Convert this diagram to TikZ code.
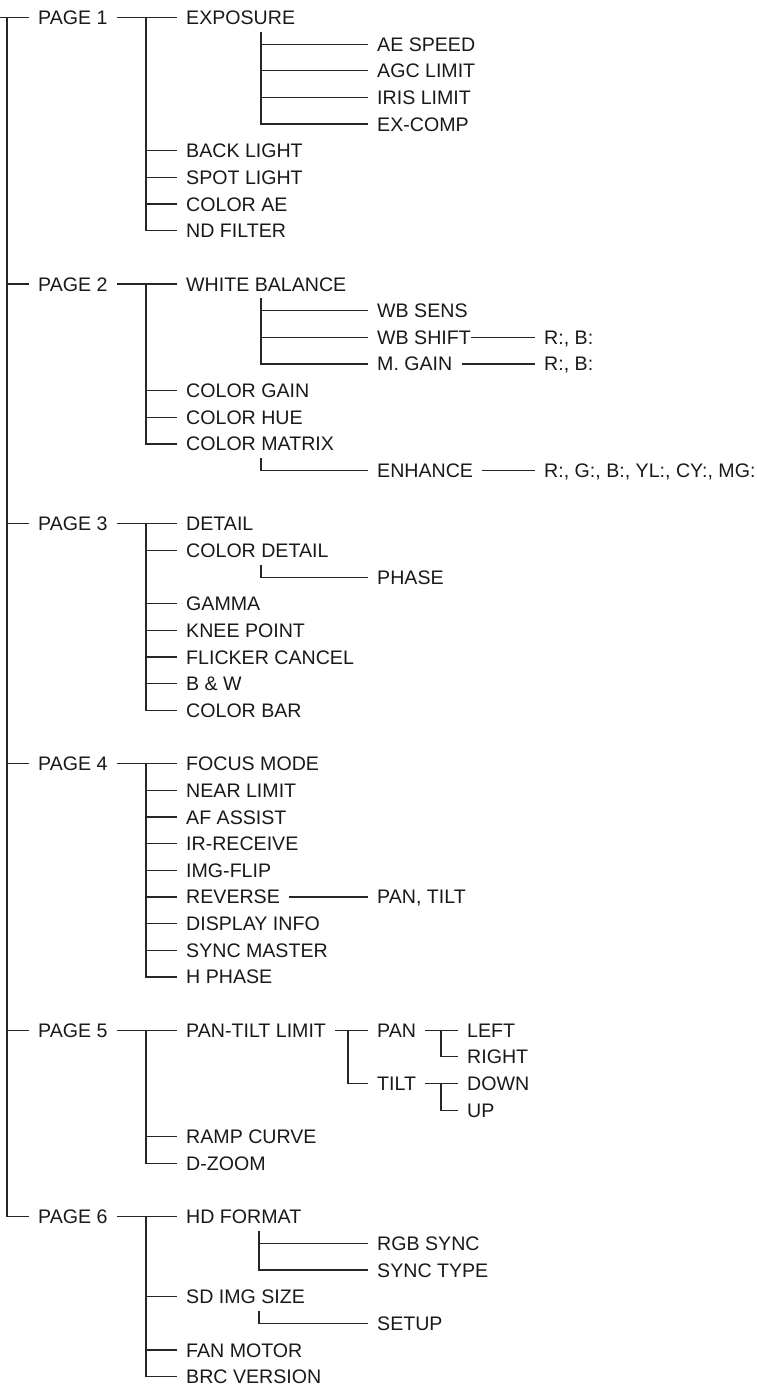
\documentclass[tikz,border=0pt]{standalone}
\usepackage{fontspec}
\setmainfont{Liberation Sans}

\begin{document}
\begin{tikzpicture}[
  x=1pt, y=-26.65pt,
  item/.style={anchor=west, inner xsep=9pt, inner ysep=0pt, text height=14pt, text depth=0pt,
               font=\fontsize{19.6}{22}\selectfont, text=black!90},
  branch/.style={line width=1.25pt, draw=black!85},
]
\useasboundingbox (0,-0.657) rectangle (757,51.388);

% pages
\node[item] (p1) at (29, 0) {PAGE 1};
\node[item] (p2) at (29, 10) {PAGE 2};
\node[item] (p3) at (29, 19) {PAGE 3};
\node[item] (p4) at (29, 28) {PAGE 4};
\node[item] (p5) at (29, 38) {PAGE 5};
\node[item] (p6) at (29, 45) {PAGE 6};

% page 1
\node[item] (expo) at (177, 0) {EXPOSURE};
\node[item] (aespeed) at (368, 1) {AE SPEED};
\node[item] (agc) at (368, 2) {AGC LIMIT};
\node[item] (iris) at (368, 3) {IRIS LIMIT};
\node[item] (excomp) at (368, 4) {EX-COMP};
\node[item] (backl) at (177, 5) {BACK LIGHT};
\node[item] (spotl) at (177, 6) {SPOT LIGHT};
\node[item] (colae) at (177, 7) {COLOR AE};
\node[item] (ndf) at (177, 8) {ND FILTER};

% page 2
\node[item] (wbal) at (177, 10) {WHITE BALANCE};
\node[item] (wbsens) at (368, 11) {WB SENS};
\node[item, inner xsep=0pt] (wbshift) at (377, 12) {WB SHIFT};
\node[item] (wbshiftrb) at (535, 12) {R:, B:};
\node[item] (mgain) at (368, 13) {M. GAIN};
\node[item] (mgainrb) at (535, 13) {R:, B:};
\node[item] (colgain) at (177, 14) {COLOR GAIN};
\node[item] (colhue) at (177, 15) {COLOR HUE};
\node[item] (colmat) at (177, 16) {COLOR MATRIX};
\node[item] (enh) at (368, 17) {ENHANCE};
\node[item] (enhval) at (535, 17) {R:, G:, B:, YL:, CY:, MG:};

% page 3
\node[item] (detail) at (177, 19) {DETAIL};
\node[item] (coldet) at (177, 20) {COLOR DETAIL};
\node[item] (phase) at (368, 21) {PHASE};
\node[item] (gamma) at (177, 22) {GAMMA};
\node[item] (knee) at (177, 23) {KNEE POINT};
\node[item] (flicker) at (177, 24) {FLICKER CANCEL};
\node[item] (bw) at (177, 25) {B \& W};
\node[item] (colbar) at (177, 26) {COLOR BAR};

% page 4
\node[item] (focus) at (177, 28) {FOCUS MODE};
\node[item] (nearl) at (177, 29) {NEAR LIMIT};
\node[item] (afa) at (177, 30) {AF ASSIST};
\node[item] (irrec) at (177, 31) {IR-RECEIVE};
\node[item] (imgflip) at (177, 32) {IMG-FLIP};
\node[item] (rev) at (177, 33) {REVERSE};
\node[item] (revpt) at (368, 33) {PAN, TILT};
\node[item] (dispinfo) at (177, 34) {DISPLAY INFO};
\node[item] (syncm) at (177, 35) {SYNC MASTER};
\node[item] (hphase) at (177, 36) {H PHASE};

% page 5
\node[item] (ptlim) at (177, 38) {PAN-TILT LIMIT};
\node[item] (pan) at (368, 38) {PAN};
\node[item] (left) at (458, 38) {LEFT};
\node[item] (right) at (458, 39) {RIGHT};
\node[item] (tilt) at (368, 40) {TILT};
\node[item] (down) at (458, 40) {DOWN};
\node[item] (up) at (458, 41) {UP};
\node[item] (ramp) at (177, 42) {RAMP CURVE};
\node[item] (dzoom) at (177, 43) {D-ZOOM};

% page 6
\node[item] (hdf) at (177, 45) {HD FORMAT};
\node[item] (rgbs) at (368, 46) {RGB SYNC};
\node[item] (synct) at (368, 47) {SYNC TYPE};
\node[item] (sdimg) at (177, 48) {SD IMG SIZE};
\node[item] (setup) at (368, 49) {SETUP};
\node[item] (fan) at (177, 50) {FAN MOTOR};
\node[item] (brc) at (177, 51) {BRC VERSION};

% junctions
\coordinate (root) at (0, 0);
\coordinate (trunk) at (7, 0);
\coordinate (j1) at (146, 0);
\coordinate (j2) at (146, 10);
\coordinate (j3) at (146, 19);
\coordinate (j4) at (146, 28);
\coordinate (j5) at (146, 38);
\coordinate (j6) at (146, 45);
\coordinate (jexpo) at (261, 0.53);
\coordinate (jwbal) at (261, 10.53);
\coordinate (jcolmat) at (261, 16.53);
\coordinate (jcoldet) at (261, 20.53);
\coordinate (jptlim) at (348, 38);
\coordinate (jpan) at (441, 38);
\coordinate (jtilt) at (441, 40);
\coordinate (jhdf) at (259, 45.53);
\coordinate (jsdimg) at (259, 48.53);

% trunk
\draw[branch] (root) -- (p1.west);
\draw[branch] (trunk) |- (p6.west);
\draw[branch] (trunk |- p2) -- (p2.west);
\draw[branch] (trunk |- p3) -- (p3.west);
\draw[branch] (trunk |- p4) -- (p4.west);
\draw[branch] (trunk |- p5) -- (p5.west);

% page 1 branches
\draw[branch] (p1.east) -- (expo.west);
\draw[branch] (j1) |- (ndf.west);
\draw[branch] (j1 |- backl) -- (backl.west);
\draw[branch] (j1 |- spotl) -- (spotl.west);
\draw[branch] (j1 |- colae) -- (colae.west);
\draw[branch] (jexpo) |- (excomp.west);
\draw[branch] (jexpo |- aespeed) -- (aespeed.west);
\draw[branch] (jexpo |- agc) -- (agc.west);
\draw[branch] (jexpo |- iris) -- (iris.west);

% page 2 branches
\draw[branch] (p2.east) -- (wbal.west);
\draw[branch] (j2) |- (colmat.west);
\draw[branch] (j2 |- colgain) -- (colgain.west);
\draw[branch] (j2 |- colhue) -- (colhue.west);
\draw[branch] (jwbal) |- (mgain.west);
\draw[branch] (jwbal |- wbsens) -- (wbsens.west);
\draw[branch] (jwbal |- wbshift) -- ([xshift=-9pt]wbshift.west);
\draw[branch] (wbshift.east) -- (wbshiftrb.west);
\draw[branch] (mgain.east) -- (mgainrb.west);
\draw[branch] (jcolmat) |- (enh.west);
\draw[branch] (enh.east) -- (enhval.west);

% page 3 branches
\draw[branch] (p3.east) -- (detail.west);
\draw[branch] (j3) |- (colbar.west);
\draw[branch] (j3 |- coldet) -- (coldet.west);
\draw[branch] (j3 |- gamma) -- (gamma.west);
\draw[branch] (j3 |- knee) -- (knee.west);
\draw[branch] (j3 |- flicker) -- (flicker.west);
\draw[branch] (j3 |- bw) -- (bw.west);
\draw[branch] (jcoldet) |- (phase.west);

% page 4 branches
\draw[branch] (p4.east) -- (focus.west);
\draw[branch] (j4) |- (hphase.west);
\draw[branch] (j4 |- nearl) -- (nearl.west);
\draw[branch] (j4 |- afa) -- (afa.west);
\draw[branch] (j4 |- irrec) -- (irrec.west);
\draw[branch] (j4 |- imgflip) -- (imgflip.west);
\draw[branch] (j4 |- rev) -- (rev.west);
\draw[branch] (j4 |- dispinfo) -- (dispinfo.west);
\draw[branch] (j4 |- syncm) -- (syncm.west);
\draw[branch] (rev.east) -- (revpt.west);

% page 5 branches
\draw[branch] (p5.east) -- (ptlim.west);
\draw[branch] (j5) |- (dzoom.west);
\draw[branch] (j5 |- ramp) -- (ramp.west);
\draw[branch] (ptlim.east) -- (pan.west);
\draw[branch] (jptlim) |- (tilt.west);
\draw[branch] (pan.east) -- (left.west);
\draw[branch] (jpan) |- (right.west);
\draw[branch] (tilt.east) -- (down.west);
\draw[branch] (jtilt) |- (up.west);

% page 6 branches
\draw[branch] (p6.east) -- (hdf.west);
\draw[branch] (j6) |- (brc.west);
\draw[branch] (j6 |- sdimg) -- (sdimg.west);
\draw[branch] (j6 |- fan) -- (fan.west);
\draw[branch] (jhdf) |- (synct.west);
\draw[branch] (jhdf |- rgbs) -- (rgbs.west);
\draw[branch] (jsdimg) |- (setup.west);

\end{tikzpicture}
\end{document}
